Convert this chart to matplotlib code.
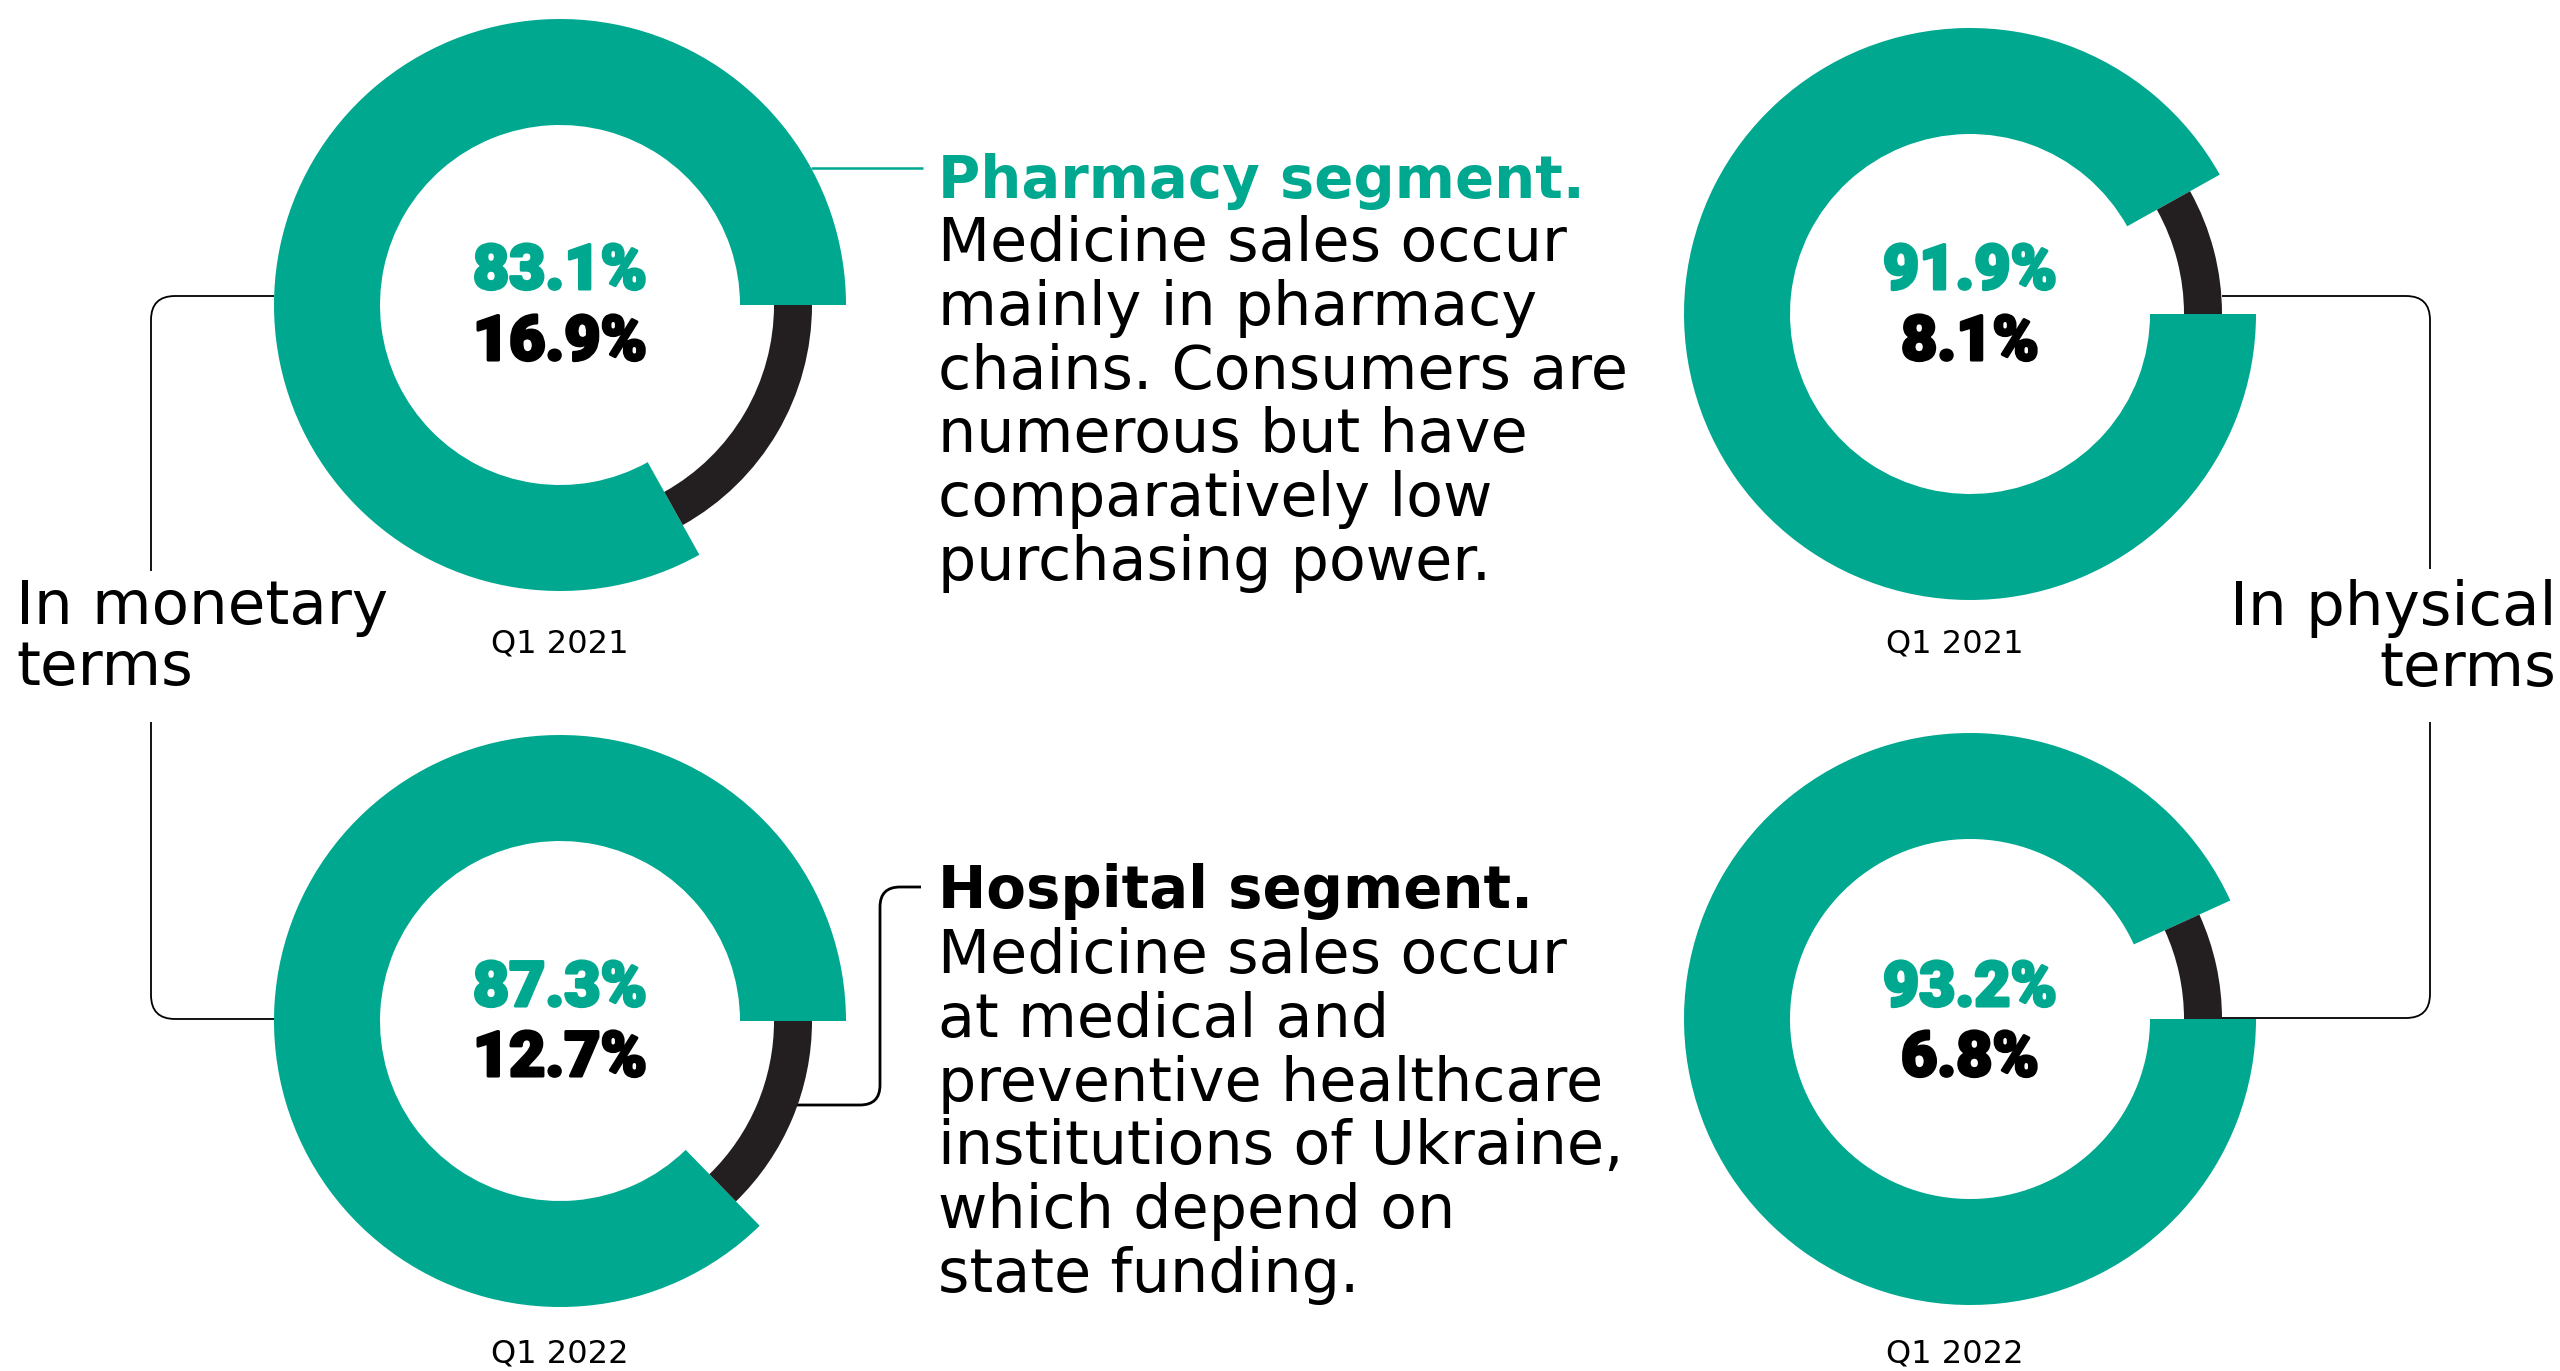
import numpy as np
import matplotlib
matplotlib.use('Agg')
import matplotlib.pyplot as plt
import matplotlib.patheffects as pe
from matplotlib.patches import Wedge, PathPatch
from matplotlib.path import Path

# data
quarters = ['Q1 2021', 'Q1 2022']
monetary_pharmacy = [83.1, 87.3]
monetary_hospital = [16.9, 12.7]
physical_pharmacy = [91.9, 93.2]
physical_hospital = [8.1, 6.8]

pharmacy_title = 'Pharmacy segment.'
pharmacy_lines = ['Medicine sales occur', 'mainly in pharmacy', 'chains. Consumers are',
                  'numerous but have', 'comparatively low', 'purchasing power.']
hospital_title = 'Hospital segment.'
hospital_lines = ['Medicine sales occur', 'at medical and', 'preventive healthcare',
                  'institutions of Ukraine,', 'which depend on', 'state funding.']
left_label = ['In monetary', 'terms']
right_label = ['In physical', 'terms']

GREEN = '#00a88f'
DARK = '#231f20'

W, H = 2560, 1371
fig = plt.figure(figsize=(W / 100, H / 100), dpi=100)
ax = fig.add_axes([0, 0, 1, 1])
ax.set_xlim(0, W)
ax.set_ylim(H, 0)
ax.axis('off')

R_OUT, R_IN = 286, 180
R_DARK, W_DARK = 252, 38


def donut(cx, cy, green, dark, side):
    g = 3.6 * green
    d = 3.6 * dark
    # y axis is inverted, so angles run clockwise on screen
    if side == 'left':
        ax.add_patch(Wedge((cx, cy), R_OUT, -g, 0, width=R_OUT - R_IN, color=GREEN, lw=0))
        ax.add_patch(Wedge((cx, cy), R_DARK, -360, -360 + d, width=W_DARK, color=DARK, lw=0))
    else:
        ax.add_patch(Wedge((cx, cy), R_OUT, -360, -d, width=R_OUT - R_IN, color=GREEN, lw=0))
        ax.add_patch(Wedge((cx, cy), R_DARK, -d, 0, width=W_DARK, color=DARK, lw=0))


def rounded(points, r):
    verts = [points[0]]
    codes = [Path.MOVETO]
    for i in range(1, len(points) - 1):
        p0, p1, p2 = [np.array(p, float) for p in points[i - 1:i + 2]]
        a = p1 + (p0 - p1) / np.linalg.norm(p0 - p1) * r
        b = p1 + (p2 - p1) / np.linalg.norm(p2 - p1) * r
        verts += [a, p1, b]
        codes += [Path.LINETO, Path.CURVE3, Path.CURVE3]
    verts.append(points[-1])
    codes.append(Path.LINETO)
    return Path(verts, codes)


def line(points, r=24, color='black', lw=1.3):
    ax.add_patch(PathPatch(rounded(points, r), fill=False, edgecolor=color, lw=lw,
                           capstyle='butt', joinstyle='round'))


# connector lines
line([(274, 296), (151, 296), (151, 571)])
line([(151, 722), (151, 1019), (274, 1019)])
line([(2222, 296), (2430, 296), (2430, 569)])
line([(2430, 722), (2430, 1018), (2203, 1018)])
line([(783, 1105), (880, 1105), (880, 887), (921, 887)], r=20, lw=2.0)
line([(811, 168), (923, 168)], color=GREEN, lw=1.8)

# donuts
centers_left = [(560, 305), (560, 1021)]
centers_right = [(1970, 314), (1970, 1019)]
num_base = [(289, 360), (1006, 1076)]
q_base = [652, 1363]

num_font = dict(family='Roboto', weight='black', fontsize=45)


def pct(x, y, v, color):
    t = ax.text(x, y, f'{v:.1f}%', ha='center', va='baseline', color=color, **num_font)
    t.set_path_effects([pe.withStroke(linewidth=2.2, foreground=color)])


for i in range(2):
    cx, cy = centers_left[i]
    donut(cx, cy, monetary_pharmacy[i], monetary_hospital[i], 'left')
    pct(cx, num_base[i][0], monetary_pharmacy[i], GREEN)
    pct(cx, num_base[i][1], monetary_hospital[i], 'black')
    ax.text(cx, q_base[i], quarters[i], ha='center', va='baseline', fontsize=23,
            family='DejaVu Sans', color='black')

    cx, cy = centers_right[i]
    donut(cx, cy, physical_pharmacy[i], physical_hospital[i], 'right')
    pct(cx, num_base[i][0], physical_pharmacy[i], GREEN)
    pct(cx, num_base[i][1], physical_hospital[i], 'black')
    ax.text(cx - 15, q_base[i], quarters[i], ha='center', va='baseline', fontsize=23,
            family='DejaVu Sans', color='black')

# side labels
for j, s in enumerate(left_label):
    ax.text(16, 624 + 61 * j, s, ha='left', va='baseline', fontsize=44, family='DejaVu Sans')
for j, s in enumerate(right_label):
    ax.text(2556, 625 + 61 * j, s, ha='right', va='baseline', fontsize=44, family='DejaVu Sans')

# descriptions
body = dict(ha='left', va='baseline', fontsize=43.5, family='DejaVu Sans', color='black')
ax.text(938, 198, pharmacy_title, ha='left', va='baseline', fontsize=41.6, family='DejaVu Sans',
        weight='bold', color=GREEN)
for j, s in enumerate(pharmacy_lines):
    ax.text(938, 261 + 63.8 * j, s, **body)
ax.text(938, 908, hospital_title, ha='left', va='baseline', fontsize=41.6, family='DejaVu Sans',
        weight='bold', color='black')
for j, s in enumerate(hospital_lines):
    ax.text(938, 973 + 63.8 * j, s, **body)

fig.savefig('out.png', dpi=100)
